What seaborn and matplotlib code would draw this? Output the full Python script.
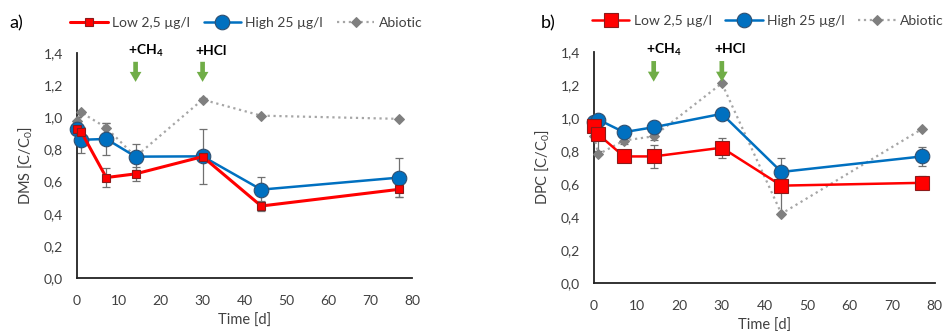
import numpy as np
import pandas as pd
import matplotlib
matplotlib.use("Agg")
import matplotlib.pyplot as plt
from matplotlib.ticker import FuncFormatter
import seaborn as sns

# time points (d); the first two points of each series sit at t=0
time_pts = [0, 0, 1, 7, 14, 30, 44, 77]
series_names = ["Low 2,5 µg/l", "High 25 µg/l", "Abiotic"]

# panel a) DMS
dms_low = [1.00, 0.86, 0.91, 0.625, 0.648, 0.755, 0.448, 0.552]
dms_low_err = [0, 0, 0.02, 0.057, 0.044, 0.03, 0.03, 0.045]
dms_high = [1.00, 0.86, 0.86, 0.865, 0.755, 0.757, 0.55, 0.625]
dms_high_err = [0, 0, 0.08, 0.10, 0.08, 0.17, 0.08, 0.12]
dms_abio = [1.00, 0.95, 1.03, 0.935, 0.755, 1.11, 1.01, 0.99]
dms_abio_err = [0, 0, 0.01, 0.03, 0.02, 0.01, 0.0, 0.0]

# panel b) DPC
dpc_low = [1.00, 0.90, 0.90, 0.767, 0.767, 0.82, 0.59, 0.607]
dpc_low_err = [0, 0, 0.10, 0.02, 0.07, 0.06, 0.17, 0.04]
dpc_high = [1.00, 0.955, 0.99, 0.914, 0.944, 1.025, 0.673, 0.767]
dpc_high_err = [0, 0, 0.02, 0.02, 0.04, 0.02, 0.03, 0.06]
dpc_abio = [1.00, 0.78, 0.78, 0.863, 0.889, 1.21, 0.42, 0.933]
dpc_abio_err = [0, 0, 0.0, 0.02, 0.02, 0.0, 0.0, 0.0]

events = [(14, r"+CH$_\mathbf{4}$"), (30, "+HCl")]

sns.set_theme(style="white")
plt.rcParams["font.family"] = ["Lato", "DejaVu Sans"]
plt.rcParams["mathtext.fontset"] = "custom"
plt.rcParams["mathtext.rm"] = "Lato"
plt.rcParams["mathtext.bf"] = "Lato:bold"

red = "#ff0000"
blue = "#0070c0"
grey = "#7f7f7f"
txt = "#404040"


def make_df(low, low_e, high, high_e, abio, abio_e):
    rows = []
    for name, vals, errs in zip(series_names, [low, high, abio], [low_e, high_e, abio_e]):
        for t, v, e in zip(time_pts, vals, errs):
            rows.append({"Time": t, "Value": v, "Err": e, "Series": name})
    return pd.DataFrame(rows)


def draw_panel(ax, df, ylabel, big_squares, leg_x):
    styles = {
        "Low 2,5 µg/l": dict(color=red, marker="s", markersize=10 if big_squares else 5.5,
                             markerfacecolor=red, markeredgecolor="#8c1a1a", markeredgewidth=0.8,
                             linewidth=2.2 if not big_squares else 1.8, zorder=4),
        "High 25 µg/l": dict(color=blue, marker="o", markersize=10.5,
                             markerfacecolor=blue, markeredgecolor="#2f4f70", markeredgewidth=0.8,
                             linewidth=1.8, zorder=3),
        "Abiotic": dict(color="#a6a6a6", marker="D", markersize=5.5,
                        markerfacecolor=grey, markeredgecolor=grey, linestyle=":",
                        linewidth=1.6, zorder=2),
    }
    for name in series_names:
        sub = df[df["Series"] == name]
        ax.errorbar(sub["Time"], sub["Value"], yerr=sub["Err"], fmt="none",
                    ecolor="#707070", elinewidth=0.9, capsize=3, capthick=0.9, zorder=1)
        sns.lineplot(data=sub, x="Time", y="Value", ax=ax, sort=False,
                     label=name, clip_on=False, **styles[name])

    ax.set_xlim(0, 80)
    ax.set_ylim(0, 1.4)
    ax.set_xticks(range(0, 81, 10))
    ax.set_yticks(np.arange(0, 1.41, 0.2))
    ax.yaxis.set_major_formatter(FuncFormatter(lambda v, p: f"{v:.1f}".replace(".", ",")))
    ax.tick_params(axis="both", labelsize=10, colors=txt, length=0)
    ax.tick_params(axis="x", pad=12)
    ax.tick_params(axis="y", pad=10)
    ax.set_xlabel("Time [d]", fontsize=10.5, color=txt, labelpad=5)
    ax.set_ylabel(ylabel, fontsize=10.5, color=txt, labelpad=6)
    sns.despine(ax=ax)
    for s in ["left", "bottom"]:
        ax.spines[s].set_color("#222222")
        ax.spines[s].set_linewidth(1.3)
        ax.spines[s].set_zorder(1.5)

    for t, label in events:
        ax.annotate("", xy=(t, 1.22), xytext=(t, 1.345), annotation_clip=False,
                    arrowprops=dict(arrowstyle="simple,head_width=0.7,head_length=0.6,tail_width=0.28",
                                    color="#70ad47", lw=0, shrinkA=0, shrinkB=0,
                                    mutation_scale=12))
        ax.text(t - 1.8, 1.415, label, fontsize=10, fontweight="bold", ha="left",
                va="center", color="black", clip_on=False)

    ax.legend(loc="center", bbox_to_anchor=(leg_x, 1.135), ncol=3, frameon=False,
              fontsize=10, handlelength=2.7, columnspacing=1.0, handletextpad=0.3,
              labelcolor=txt)


fig = plt.figure(figsize=(9.49, 3.31), dpi=100)
ax_a = fig.add_axes([0.0811, 0.160, 0.353, 0.680])
ax_b = fig.add_axes([0.626, 0.145, 0.359, 0.698])

draw_panel(ax_a, make_df(dms_low, dms_low_err, dms_high, dms_high_err, dms_abio, dms_abio_err),
           r"DMS [C/C$_0$]", False, 0.505)
draw_panel(ax_b, make_df(dpc_low, dpc_low_err, dpc_high, dpc_high_err, dpc_abio, dpc_abio_err),
           r"DPC [C/C$_0$]", True, 0.51)

fig.text(0.010, 0.915, "a)", fontsize=13, color="black")
fig.text(0.570, 0.915, "b)", fontsize=13, color="black")

fig.savefig("out.png", dpi=100)
